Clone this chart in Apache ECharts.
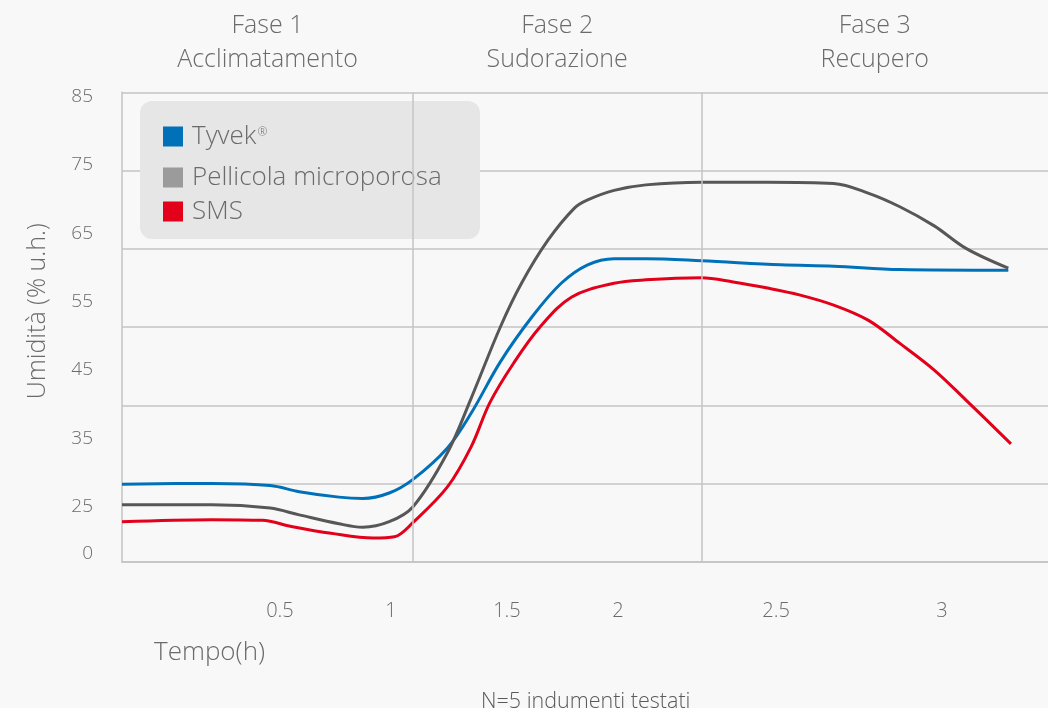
<!DOCTYPE html>
<html>
<head>
<meta charset="utf-8">
<script src="https://cdn.jsdelivr.net/npm/echarts@6/dist/echarts.min.js"></script>
<style>
  html, body { margin: 0; padding: 0; background: #f8f8f8; }
  #chart { width: 1048px; height: 708px; }
</style>
</head>
<body>
<div id="chart"></div>
<script>
// Relative humidity (% u.h.) inside the garment over time (h)
const tyvekTime = [0, 0.34, 0.56, 0.67, 0.82, 0.91, 1.01, 1.10, 1.23, 1.32, 1.43, 1.55, 1.66, 1.76, 1.86, 1.98, 2.19, 2.49, 2.69, 2.94, 3.35];
const tyvekRH   = [28.3, 28.4, 28.1, 27.2, 26.4, 26.2, 27.0, 29.0, 33.6, 38.7, 46.2, 52.8, 57.7, 60.4, 61.3, 61.3, 61.0, 60.4, 60.2, 59.7, 59.6];

const filmTime = [0, 0.34, 0.56, 0.67, 0.82, 0.91, 1.01, 1.10, 1.23, 1.32, 1.43, 1.51, 1.61, 1.71, 1.76, 1.86, 1.98, 2.19, 2.44, 2.69, 2.82, 2.94, 3.07, 3.19, 3.35];
const filmRH   = [25.3, 25.3, 24.8, 23.8, 22.5, 22.0, 22.8, 25.0, 32.9, 40.9, 51.3, 57.7, 64.0, 68.7, 69.9, 71.3, 72.1, 72.5, 72.5, 72.3, 70.9, 68.9, 66.1, 62.8, 59.9];

const smsTime = [0, 0.34, 0.53, 0.64, 0.79, 0.95, 1.03, 1.10, 1.23, 1.32, 1.39, 1.48, 1.58, 1.70, 1.86, 1.98, 2.19, 2.31, 2.44, 2.56, 2.69, 2.82, 2.94, 3.07, 3.19, 3.36];
const smsRH   = [22.8, 23.1, 23.0, 22.1, 21.1, 20.4, 20.6, 22.7, 27.9, 33.8, 40.2, 46.0, 51.3, 55.7, 57.7, 58.2, 58.5, 57.9, 57.0, 56.0, 54.5, 52.3, 48.9, 45.0, 40.6, 34.2];

const seriesNames = ['Tyvek®', 'Pellicola microporosa', 'SMS'];

// Test phases: boundaries (h) and headings
const phaseBounds = [0, 1.1, 2.19, 3.5];
const phaseTitles = ['Fase 1\nAcclimatamento', 'Fase 2\nSudorazione', 'Fase 3\nRecupero'];

// Axis tick labels and where they sit on each axis
const xTickText = ['0.5', '1', '1.5', '2', '2.5', '3'];
const xTickAt   = [0.597, 1.017, 1.455, 1.875, 2.472, 3.099];
const yTickText = ['0', '25', '35', '45', '55', '65', '75', '85'];
const yTickAt   = [18.18, 25, 35, 45, 55, 65, 75, 85];

const FONT = "'Open Sans', 'Liberation Sans', sans-serif";
const TEXT = '#6b6b6b';
const GRID = '#c4c4c4';
const COLORS = ['#0070b8', '#575757', '#e2001a'];
const KEY_COLORS = ['#0070b8', '#9b9b9b', '#e2001a'];

const pairs = (t, v) => t.map((x, i) => [x, v[i]]);
const pick = (at, text) => (v) => {
  const i = at.findIndex(a => Math.abs(a - v) < 1e-6);
  return i < 0 ? '' : text[i];
};

const lineSeries = (name, data, color, extra) => Object.assign({
  name, type: 'line', data, smooth: 0.35, showSymbol: false, symbol: 'none',
  lineStyle: { width: 3, color }, itemStyle: { color }, z: 3
}, extra || {});

const phaseAreas = phaseTitles.map((title, i) => [
  { xAxis: phaseBounds[i], name: title }, { xAxis: phaseBounds[i + 1] }
]);

// one key entry per row inside the shared grey panel
const keyTops = [123.5, 164.5, 198.5];
const keyEntry = (i) => ({
  orient: 'vertical', left: 163, top: keyTops[i], padding: 0,
  itemWidth: 20, itemHeight: 20, icon: 'rect',
  itemStyle: { borderWidth: 0 },
  data: [{ name: seriesNames[i], itemStyle: { color: KEY_COLORS[i] } }],
  formatter: (name) => name === 'Tyvek®' ? 'Tyvek{sup|®}' : name,
  textStyle: {
    fontFamily: FONT, fontWeight: 300, fontSize: 26, lineHeight: 20, color: TEXT, padding: [0, 0, 0, 4],
    rich: { sup: { fontFamily: FONT, fontSize: 12, lineHeight: 20, color: TEXT, verticalAlign: 'top', padding: [0, 0, 12, 1] } }
  }
});

const chart = echarts.init(document.getElementById('chart'), null, { renderer: 'canvas' });
chart.setOption({
  backgroundColor: '#f8f8f8',
  animation: false,
  textStyle: { fontFamily: FONT, fontWeight: 300, color: TEXT },
  grid: { left: 122, right: 0, top: 92.3, bottom: 708 - 562.1, containLabel: false },
  title: {
    text: 'N=5 indumenti testati', left: 476, top: 686,
    textStyle: { fontFamily: FONT, fontWeight: 300, fontSize: 21.5, color: '#5a5a5a' }
  },
  graphic: [{
    type: 'rect', z: 1, silent: true,
    shape: { x: 140, y: 101, width: 340, height: 138, r: 12 },
    style: { fill: '#e6e6e6' }
  }],
  legend: [keyEntry(0), keyEntry(1), keyEntry(2)],
  xAxis: {
    type: 'value', min: 0, max: 3.5,
    name: 'Tempo(h)', nameLocation: 'start', nameGap: -32,
    nameTextStyle: { fontFamily: FONT, fontWeight: 300, fontSize: 26, color: TEXT, align: 'left', verticalAlign: 'top', padding: [77, 0, 0, 0] },
    axisLine: { show: true, lineStyle: { color: GRID, width: 1.5 } },
    axisTick: { show: false },
    splitLine: { show: false },
    axisLabel: {
      customValues: xTickAt, formatter: pick(xTickAt, xTickText),
      margin: 39, fontFamily: FONT, fontWeight: 300, fontSize: 20, color: TEXT
    }
  },
  yAxis: [
    {
      type: 'value', min: 16.89, max: 85.65,
      name: 'Umidità (% u.h.)', nameLocation: 'middle', nameGap: 72,
      nameTextStyle: { fontFamily: FONT, fontWeight: 300, fontSize: 25, color: TEXT, padding: [0, 0, 0, 32] },
      axisLine: { show: true, lineStyle: { color: GRID, width: 1.5 } },
      axisTick: { show: false },
      splitLine: { show: false },
      axisLabel: {
        customValues: yTickAt, formatter: pick(yTickAt, yTickText),
        margin: 29, fontFamily: FONT, fontWeight: 300, fontSize: 19, color: TEXT
      }
    },
    {
      // horizontal rules of the plot frame
      type: 'value', min: 0, max: 6, interval: 1, position: 'left',
      axisLine: { show: false }, axisTick: { show: false }, axisLabel: { show: false },
      splitLine: { show: true, lineStyle: { color: GRID, width: 1.5 } }
    }
  ],
  series: [
    lineSeries(seriesNames[0], pairs(tyvekTime, tyvekRH), COLORS[0], {
      markLine: {
        silent: true, symbol: 'none', label: { show: false },
        lineStyle: { color: GRID, width: 1.5, type: 'solid' },
        data: phaseBounds.slice(1, -1).map(b => ({ xAxis: b }))
      },
      markArea: {
        silent: true,
        itemStyle: { color: 'rgba(0,0,0,0)' },
        label: {
          show: true, position: 'top', distance: 15,
          fontFamily: FONT, fontWeight: 300, fontSize: 25, lineHeight: 34, color: TEXT, align: 'center'
        },
        data: phaseAreas
      }
    }),
    lineSeries(seriesNames[1], pairs(filmTime, filmRH), COLORS[1]),
    lineSeries(seriesNames[2], pairs(smsTime, smsRH), COLORS[2])
  ]
});
</script>
</body>
</html>
